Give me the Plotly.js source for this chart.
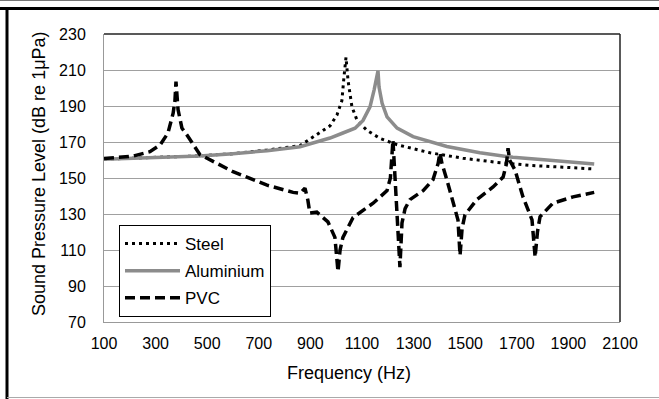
<!DOCTYPE html>
<html>
<head>
<meta charset="utf-8">
<script src="https://cdn.plot.ly/plotly-3.0.1.min.js"></script>
<style>html,body{margin:0;padding:0;background:#fff;}#chart{width:659px;height:399px;}</style>
</head>
<body>
<div id="chart"></div>
<script>
// Steel (dotted)
const steelFreq = [100, 300, 472, 600, 732, 860, 937, 976, 1003, 1022, 1030, 1038, 1046, 1061, 1081, 1100, 1119, 1170, 1236, 1364, 1491, 1623, 1751, 1879, 2000];
const steelSPL  = [160.5, 161.3, 162.3, 163.5, 165.5, 168, 175, 179, 185, 193, 206, 217, 204, 189.5, 182, 179, 176.5, 172, 168.5, 164, 161, 158.7, 157, 156, 155];

// Aluminium (solid grey)
const aluFreq = [100, 278, 472, 600, 732, 860, 976, 1026, 1073, 1104, 1131, 1147, 1158, 1162, 1166, 1178, 1197, 1236, 1298, 1429, 1557, 1685, 1817, 2000];
const aluSPL  = [160.4, 161.2, 162.2, 163.5, 165.2, 167.4, 172.2, 175, 177.7, 182, 189.5, 199, 207, 209.5, 200.5, 191.5, 184, 177.7, 173, 167.5, 164, 161.5, 160, 157.8];

// PVC (dashed)
const pvcFreq = [100, 213, 278, 317, 348, 368, 375, 379, 387, 402, 421, 472, 600, 732, 833, 860, 879, 890, 898, 925, 968, 995, 1007, 1015, 1026, 1065, 1143, 1197, 1210, 1216, 1220, 1230, 1240, 1247, 1255, 1267, 1286, 1337, 1375, 1395, 1402, 1410, 1429, 1460, 1472, 1480, 1488, 1499, 1545, 1608, 1647, 1660, 1666, 1672, 1693, 1724, 1759, 1771, 1780, 1790, 1840, 1918, 2000];
const pvcSPL  = [160.8, 162.2, 164.6, 168.3, 175, 186, 193, 203.5, 188, 177.7, 174, 163, 153.5, 146, 142, 141.5, 144.4, 137.8, 130.5, 131, 125.6, 117, 98, 110, 117, 128, 136, 143, 150, 160, 171, 145, 115, 100.5, 125, 133, 138, 143, 149, 158, 164, 158, 149, 134, 126.7, 107, 122, 129.5, 138, 145, 150.5, 158, 166.5, 160, 154.5, 139.5, 126.7, 106, 120, 128.5, 136, 139.5, 142];

const xTicks = [100, 300, 500, 700, 900, 1100, 1300, 1500, 1700, 1900, 2100];
const yTicks = [70, 90, 110, 130, 150, 170, 190, 210, 230];
const xTitle = 'Frequency (Hz)';
const yTitle = 'Sound Pressure Level (dB re 1μPa)';

const font = "Liberation Sans, Arial, sans-serif";

const traces = [
  {x: steelFreq, y: steelSPL, name: 'Steel', mode: 'lines', legendgroup: 'a',
   line: {color: '#000', width: 3, dash: '3px,4px'}},
  {x: aluFreq, y: aluSPL, name: 'Aluminium', mode: 'lines', legendgroup: 'b',
   line: {color: '#8c8c8c', width: 3.5}},
  {x: pvcFreq, y: pvcSPL, name: 'PVC', mode: 'lines', legendgroup: 'c',
   line: {color: '#000', width: 3.5, dash: '10px,5px'}}
];

const L = 104, R = 620, T = 34, B = 322, W = 659, H = 399;
const px = v => (v - L) / (R - L);
const py = v => (B - v) / (B - T);

const layout = {
  width: W, height: H,
  margin: {l: L, r: W - R, t: T, b: H - B},
  paper_bgcolor: '#fff', plot_bgcolor: '#fff',
  font: {family: font, color: '#000', size: 16},
  showlegend: true,
  legend: {x: px(119), y: py(225), xanchor: 'left', yanchor: 'top',
           bgcolor: '#fff', bordercolor: '#000', borderwidth: 1,
           font: {size: 17, family: font}, tracegroupgap: 2, itemwidth: 55,
           entrywidth: 150},
  xaxis: {range: [100, 2100], tickvals: xTicks, ticktext: xTicks.map(String),
          showgrid: false, zeroline: false, showline: true, linecolor: '#999', linewidth: 1,
          ticks: '', tickfont: {size: 16}, ticklabelstandoff: 7},
  yaxis: {range: [70, 230], tickvals: yTicks, ticktext: yTicks.map(String),
          showgrid: true, gridcolor: '#a0a0a0', gridwidth: 1, zeroline: false,
          showline: true, linecolor: '#999', linewidth: 1,
          ticks: '', tickfont: {size: 16}, ticklabelstandoff: 14},
  annotations: [
    {xref: 'paper', yref: 'paper', x: px(349), y: py(373), text: xTitle, showarrow: false,
     xanchor: 'center', yanchor: 'middle', font: {size: 18, family: font}},
    {xref: 'paper', yref: 'paper', x: px(39), y: py(174), text: yTitle, showarrow: false,
     textangle: -90, xanchor: 'center', yanchor: 'middle', font: {size: 18, family: font}}
  ],
  shapes: [
    {type: 'line', xref: 'paper', yref: 'paper', x0: 0, x1: 1, y0: 1, y1: 1, line: {color: '#222', width: 1.5}},
    {type: 'line', xref: 'paper', yref: 'paper', x0: 1, x1: 1, y0: 0, y1: 1, line: {color: '#222', width: 1.5}},
    {type: 'line', xref: 'paper', yref: 'paper', x0: px(0), x1: px(659), y0: py(0.5), y1: py(0.5), line: {color: '#777', width: 1}},
    {type: 'line', xref: 'paper', yref: 'paper', x0: px(0), x1: px(659), y0: py(8.5), y1: py(8.5), line: {color: '#000', width: 3}},
    {type: 'line', xref: 'paper', yref: 'paper', x0: px(7), x1: px(7), y0: py(8.5), y1: py(399), line: {color: '#000', width: 3}},
    {type: 'line', xref: 'paper', yref: 'paper', x0: px(7), x1: px(659), y0: py(397.5), y1: py(397.5), line: {color: '#aaa', width: 1}}
  ]
};

Plotly.newPlot('chart', traces, layout, {displayModeBar: false, staticPlot: true});
</script>
</body>
</html>
